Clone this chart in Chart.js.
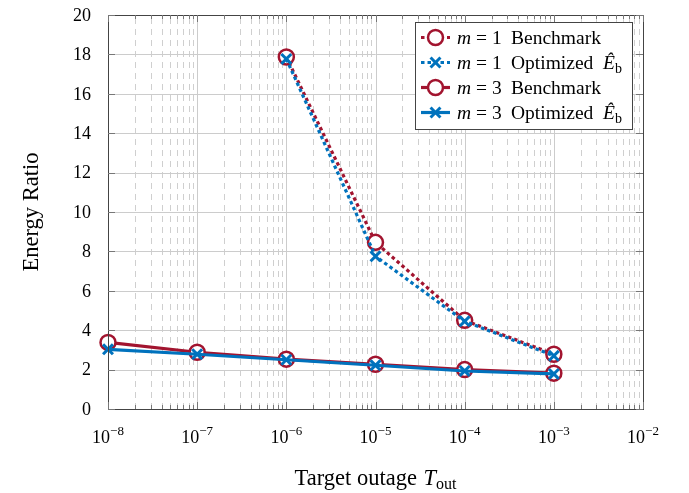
<!DOCTYPE html>
<html>
<head>
<meta charset="utf-8">
<script src="https://cdn.jsdelivr.net/npm/chart.js@4.4.0/dist/chart.umd.min.js"></script>
<style>
  html, body { margin: 0; padding: 0; background: #fff; }
  #wrap { width: 689px; height: 493px; }
</style>
</head>
<body>
<div id="wrap"><canvas id="grafico" width="689" height="493"></canvas></div>
<script>
// dados
var outages = [1e-8, 1e-7, 1e-6, 1e-5, 1e-4, 1e-3];
var m1Benchmark = [null, null, 17.87, 8.46, 4.5, 2.78];
var m1Optimized = [null, null, 17.77, 7.75, 4.45, 2.7];
var m3Benchmark = [3.38, 2.88, 2.53, 2.27, 2.0, 1.82];
var m3Optimized = [3.03, 2.78, 2.5, 2.22, 1.93, 1.78];
var xExponents = [-8, -7, -6, -5, -4, -3, -2];
var yTicks = [0, 2, 4, 6, 8, 10, 12, 14, 16, 18, 20];
var legendM = ["1", "1", "3", "3"];
var legendNames = ["Benchmark", "Optimized", "Benchmark", "Optimized"];

var vermelho = "#a2142f";
var azul = "#0072bd";
var serif = '"Liberation Serif", "DejaVu Serif", serif';

function pontos(values) {
    return outages.map(function (x, i) { return { x: x, y: values[i] }; });
}

var estilos = [
    { color: vermelho, dash: [3.5, 3], point: "circle", radius: 7.5 },
    { color: azul, dash: [3.5, 3], point: "crossRot", radius: 7 },
    { color: vermelho, dash: [], point: "circle", radius: 7.5 },
    { color: azul, dash: [], point: "crossRot", radius: 7 }
];
var series = [m1Benchmark, m1Optimized, m3Benchmark, m3Optimized];

var datasets = series.map(function (values, i) {
    var e = estilos[i];
    return {
        label: "m = " + legendM[i] + " " + legendNames[i],
        data: pontos(values),
        borderColor: e.color,
        borderWidth: 3.2,
        borderDash: e.dash,
        pointStyle: e.point,
        pointRadius: e.radius,
        pointBorderWidth: e.point === "circle" ? 2.5 : 3,
        pointBorderColor: e.color,
        pointBackgroundColor: "#ffffff",
        fill: false,
        tension: 0,
        clip: false,
        order: 3 - i
    };
});

function runs(ctx, x, y, partes) {
    partes.forEach(function (p) {
        ctx.font = p.font;
        if (p.x !== undefined) x = p.x;
        ctx.fillText(p.t, x, y + (p.dy || 0));
        x += ctx.measureText(p.t).width + (p.sp || 0);
    });
    return x;
}

function largura(ctx, partes) {
    var w = 0;
    partes.forEach(function (p) {
        ctx.font = p.font;
        w += ctx.measureText(p.t).width + (p.sp || 0);
    });
    return w;
}

var grade = {
    id: "grade",
    beforeDatasetsDraw: function (chart) {
        var ctx = chart.ctx, a = chart.chartArea;
        var xs = chart.scales.x, ys = chart.scales.y;
        ctx.save();
        ctx.lineWidth = 1;
        // linhas menores tracejadas
        ctx.strokeStyle = "#cfcfcf";
        ctx.setLineDash([6, 5]);
        for (var e = -8; e < -2; e++) {
            for (var k = 2; k <= 9; k++) {
                var px = Math.round(xs.getPixelForValue(k * Math.pow(10, e))) + 0.5;
                ctx.beginPath();
                ctx.moveTo(px, a.bottom);
                ctx.lineTo(px, a.top);
                ctx.stroke();
            }
        }
        ctx.setLineDash([]);
        ctx.strokeStyle = "#cccccc";
        xExponents.forEach(function (ex) {
            var px = Math.round(xs.getPixelForValue(Math.pow(10, ex))) + 0.5;
            ctx.beginPath();
            ctx.moveTo(px, a.bottom);
            ctx.lineTo(px, a.top);
            ctx.stroke();
        });
        yTicks.forEach(function (v) {
            var py = Math.round(ys.getPixelForValue(v)) + 0.5;
            ctx.beginPath();
            ctx.moveTo(a.left, py);
            ctx.lineTo(a.right, py);
            ctx.stroke();
        });
        ctx.restore();
    },
    afterDraw: function (chart) {
        var ctx = chart.ctx, a = chart.chartArea;
        var xs = chart.scales.x, ys = chart.scales.y;
        ctx.save();
        // moldura e marcas
        ctx.strokeStyle = "#444444";
        ctx.lineWidth = 1;
        ctx.strokeRect(Math.round(a.left) + 0.5, Math.round(a.top) + 0.5,
            Math.round(a.right - a.left), Math.round(a.bottom - a.top));
        ctx.strokeStyle = "#777777";
        for (var e = -8; e < -2; e++) {
            for (var k = 2; k <= 9; k++) {
                var px = Math.round(xs.getPixelForValue(k * Math.pow(10, e))) + 0.5;
                ctx.beginPath();
                ctx.moveTo(px, a.bottom); ctx.lineTo(px, a.bottom - 4);
                ctx.moveTo(px, a.top); ctx.lineTo(px, a.top + 4);
                ctx.stroke();
            }
        }
        xExponents.forEach(function (ex) {
            var px = Math.round(xs.getPixelForValue(Math.pow(10, ex))) + 0.5;
            ctx.beginPath();
            ctx.moveTo(px, a.bottom); ctx.lineTo(px, a.bottom - 7);
            ctx.moveTo(px, a.top); ctx.lineTo(px, a.top + 7);
            ctx.stroke();
        });
        yTicks.forEach(function (v) {
            var py = Math.round(ys.getPixelForValue(v)) + 0.5;
            ctx.beginPath();
            ctx.moveTo(a.left, py); ctx.lineTo(a.left + 7, py);
            ctx.moveTo(a.right, py); ctx.lineTo(a.right - 7, py);
            ctx.stroke();
        });

        // rótulos do eixo y
        ctx.fillStyle = "#000";
        ctx.font = "18px " + serif;
        ctx.textAlign = "right";
        ctx.textBaseline = "middle";
        yTicks.forEach(function (v) {
            ctx.fillText(String(v), a.left - 17, ys.getPixelForValue(v) + 1);
        });

        // rótulos do eixo x: 10^e
        ctx.textAlign = "left";
        ctx.textBaseline = "alphabetic";
        xExponents.forEach(function (ex) {
            var partes = [
                { t: "10", font: "18px " + serif },
                { t: "\u2212" + Math.abs(ex), font: "13px " + serif, dy: -8 }
            ];
            var w = largura(ctx, partes);
            var cx = xs.getPixelForValue(Math.pow(10, ex));
            runs(ctx, cx - w / 2, 443, partes);
        });

        // título x
        var tituloX = [
            { t: "Target outage ", font: "22.5px " + serif, sp: 1 },
            { t: "T", font: "italic 22.5px " + serif, sp: 0 },
            { t: "out", font: "16px " + serif, dy: 4 }
        ];
        var wx = largura(ctx, tituloX);
        runs(ctx, (a.left + a.right) / 2 - wx / 2, 485, tituloX);

        // título y
        ctx.save();
        ctx.translate(38, (a.top + a.bottom) / 2);
        ctx.rotate(-Math.PI / 2);
        ctx.textAlign = "center";
        ctx.font = "22.5px " + serif;
        ctx.fillText("Energy Ratio", 0, 0);
        ctx.restore();

        // legenda
        var lx = 415, ly = 22, lw = 217, lh = 107;
        ctx.fillStyle = "#fff";
        ctx.fillRect(lx, ly, lw, lh);
        ctx.strokeStyle = "#444444";
        ctx.lineWidth = 1;
        ctx.strokeRect(lx + 0.5, ly + 0.5, lw, lh);
        var linhas = [37.5, 62.5, 87.5, 112.5];
        linhas.forEach(function (yy, i) {
            var e = estilos[i];
            ctx.strokeStyle = e.color;
            ctx.lineWidth = 3.2;
            ctx.setLineDash(e.dash);
            ctx.beginPath();
            ctx.moveTo(421, yy); ctx.lineTo(450, yy);
            ctx.stroke();
            ctx.setLineDash([]);
            ctx.lineWidth = e.point === "circle" ? 2.5 : 3;
            ctx.fillStyle = "#fff";
            ctx.strokeStyle = e.color;
            Chart.helpers.drawPoint(ctx, {
                pointStyle: e.point, radius: e.radius, rotation: 0, borderWidth: ctx.lineWidth
            }, 435.5, yy);
            ctx.fillStyle = "#000";
            var fonte = "19.5px " + serif;
            var partes = [
                { t: "m", font: "italic " + fonte, x: 457 },
                { t: "=", font: fonte, x: 476 },
                { t: legendM[i], font: fonte, x: 492 },
                { t: legendNames[i], font: fonte, x: 511 }
            ];
            if (legendNames[i] === "Optimized") {
                partes.push({ t: "\u00ca", font: "italic " + fonte, x: 603 });
                partes.push({ t: "b", font: "14px " + serif, dy: 4 });
            }
            runs(ctx, 457, yy + 6, partes);
        });
        ctx.restore();
    }
};

var grafico = new Chart(document.getElementById("grafico").getContext("2d"), {
    type: "line",
    data: { datasets: datasets },
    options: {
        responsive: false,
        animation: false,
        layout: { padding: { left: 108, right: 46, top: 15, bottom: 84 } },
        plugins: {
            legend: { display: false },
            tooltip: { enabled: false }
        },
        scales: {
            x: {
                type: "logarithmic",
                min: 1e-8,
                max: 1e-2,
                grid: { display: false, drawTicks: false },
                border: { display: false },
                ticks: { display: false }
            },
            y: {
                min: 0,
                max: 20,
                grid: { display: false, drawTicks: false },
                border: { display: false },
                ticks: { display: false }
            }
        }
    },
    plugins: [grade]
});
</script>
</body>
</html>
